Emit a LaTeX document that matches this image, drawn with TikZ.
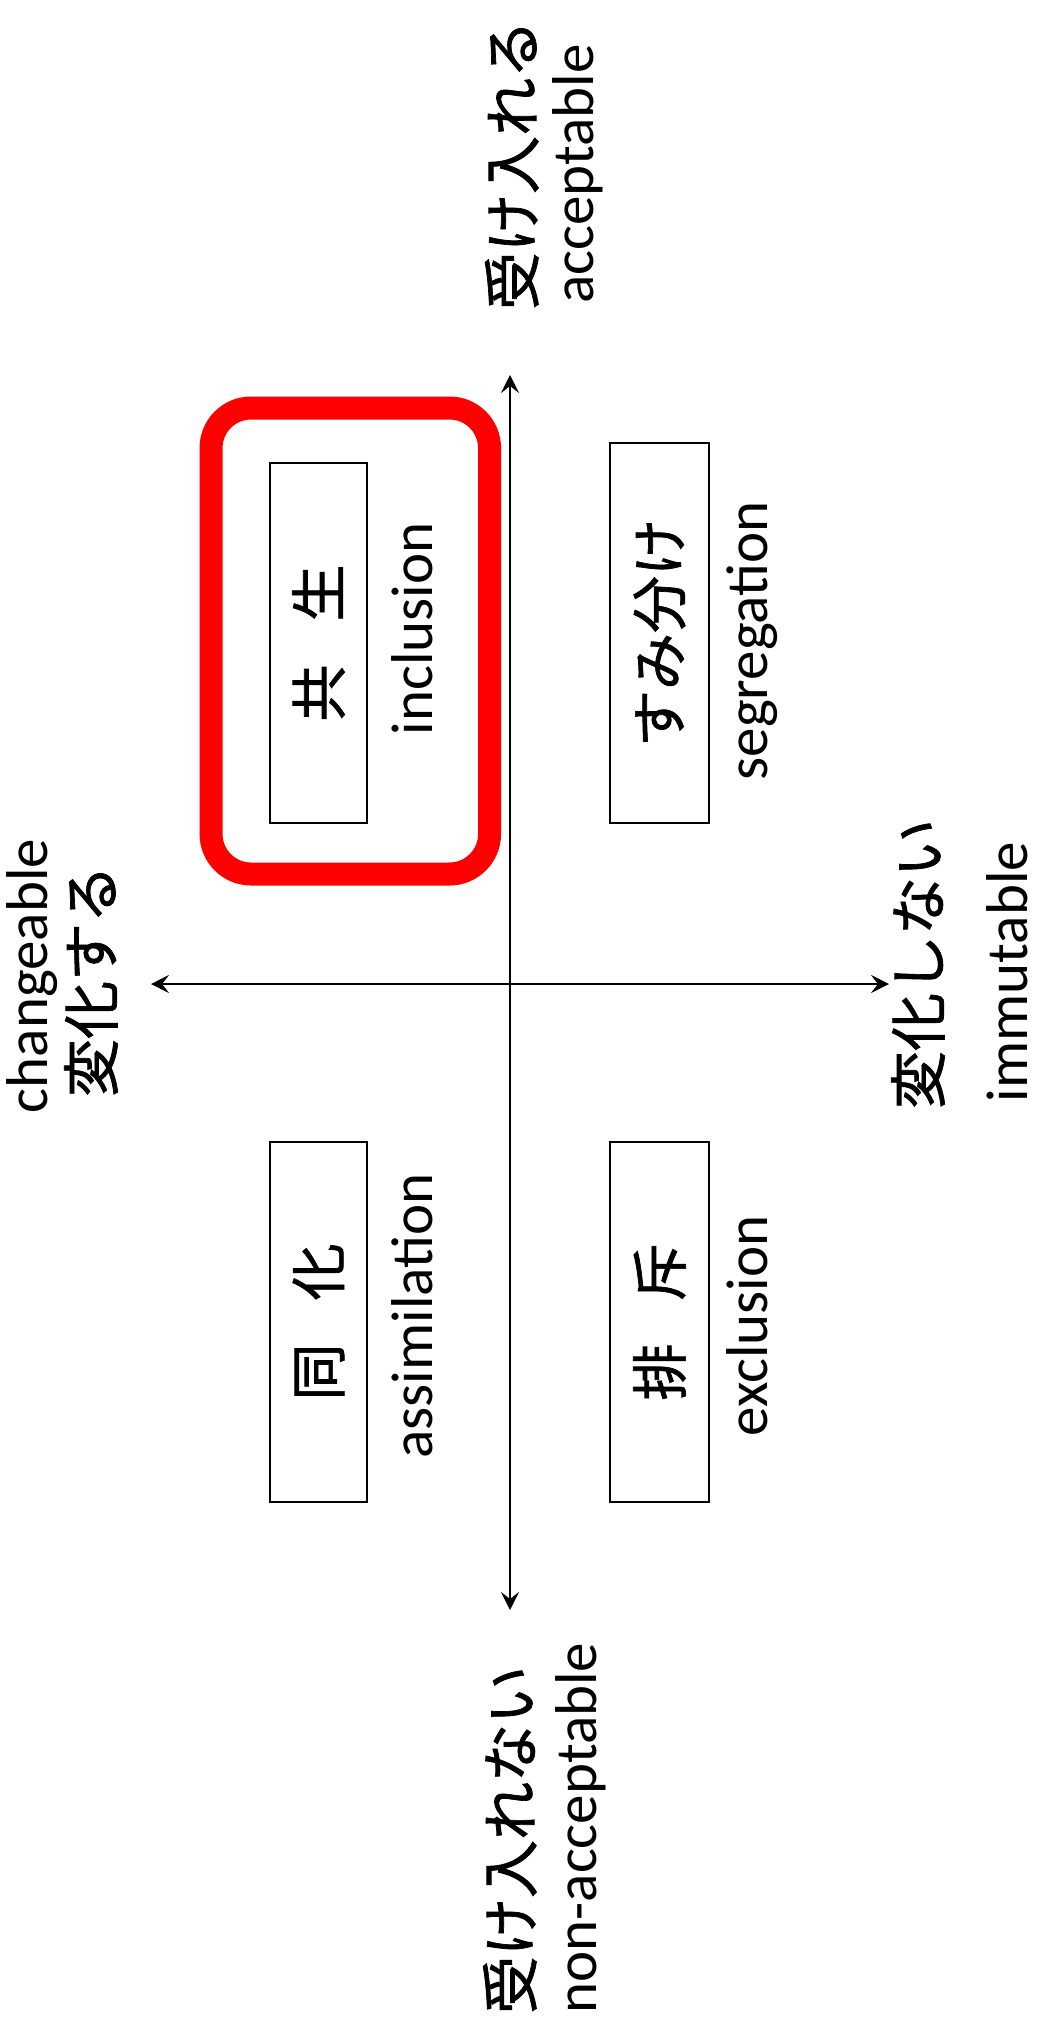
\documentclass[tikz,border=0pt]{standalone}
\usepackage{fontspec}
\setmainfont{Carlito}
\newfontfamily\jp[FakeBold=1.2]{Noto Sans CJK JP}
\usetikzlibrary{arrows.meta}
\begin{document}
\begin{tikzpicture}[x=1pt,y=-1pt,
  en/.style={rotate=90, anchor=base, inner sep=0pt, font=\fontsize{59}{70}\selectfont},
  ja/.style={rotate=90, anchor=base, inner sep=0pt, font=\jp\fontsize{58}{70}\selectfont},
  catbox/.style={draw, line width=2.5pt, rotate=90, inner sep=0pt, font=\jp\fontsize{57}{70}\selectfont},
  hl/.style={draw=red, line width=23pt, rounded corners=40pt, inner sep=0pt},
  axis/.style={line width=2.5pt, {Stealth[length=18pt,width=18pt,inset=7pt]}-{Stealth[length=18pt,width=18pt,inset=7pt]}},
]
\useasboundingbox (0,0) rectangle (1041,2033);
\fill[white] (0,0) rectangle (1041,2033);

% highlight
\node[hl, minimum width=278.5pt, minimum height=466pt] (hl) at (350.3,641) {};

% category boxes
\node[catbox, minimum width=360pt, minimum height=97pt] (kyosei) at (318.5,643) {共\hspace{43pt}生};
\node[catbox, minimum width=380pt, minimum height=99pt] (sumiwake) at (659.5,633) {すみ分け};
\node[catbox, minimum width=360pt, minimum height=97pt] (doka) at (318.5,1322) {同\hspace{43pt}化};
\node[catbox, minimum width=360pt, minimum height=99pt] (haiseki) at (659.5,1322) {排\hspace{43pt}斥};

% english captions
\node[en] (inc) at (432,629) {inclusion};
\node[en] (seg) at (767,641) {segregation};
\node[en] (assim) at (432,1316) {assimilation};
\node[en] (exc) at (767,1326) {exclusion};

% axis labels
\node[ja] (accja) at (534,165) {受け入れる};
\node[en] (accen) at (593,174) {acceptable};
\node[en] (chgen) at (47,976) {changeable};
\node[ja] (chgja) at (113,981) {変化する};
\node[ja] (immja) at (940,964) {変化しない};
\node[en] (immen) at (1027,972) {immutable};
\node[ja] (naccja) at (532,1840) {受け入れない};
\node[en] (naccen) at (596,1828) {non-acceptable};

% axes
\coordinate (top) at (510,375);
\coordinate (bot) at (510,1610);
\coordinate (lft) at (151,984);
\coordinate (rgt) at (889,984);
\draw[axis] (top) -- (bot);
\draw[axis] (lft) -- (rgt);
\end{tikzpicture}
\end{document}
